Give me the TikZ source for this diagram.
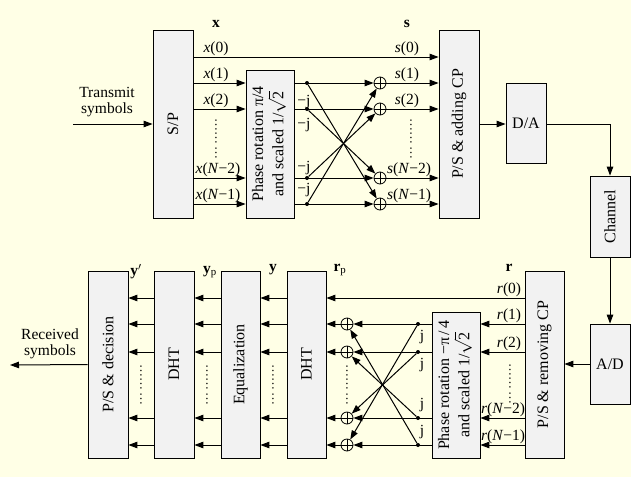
\documentclass[tikz,border=0pt]{standalone}
\usepackage{fontspec}
\setmainfont{Liberation Serif}
\usepackage{graphicx}
\usetikzlibrary{arrows.meta,calc}
\definecolor{bgc}{RGB}{255,255,230}
\definecolor{boxgray}{RGB}{242,242,242}
\tikzset{
  box/.style={draw, fill=boxgray, line width=0.8pt, inner sep=0pt, font=\fontsize{16}{18}\selectfont},
  arr/.style={-{Triangle[length=9pt,width=6.5pt]}, line width=1pt},
  sumnode/.style={circle, draw, line width=0.8pt, minimum size=12pt, inner sep=0pt,
    path picture={\draw[line width=0.8pt] (path picture bounding box.north)--(path picture bounding box.south) (path picture bounding box.west)--(path picture bounding box.east);}},
  dotnode/.style={circle, fill, inner sep=0pt, minimum size=4pt},
  lbl/.style={font=\fontsize{15.5}{17}\selectfont, inner sep=1pt},
  vdots/.style={rotate=90, font=\fontsize{13}{14}\selectfont, inner sep=0pt}
}
\begin{document}
\begin{tikzpicture}[x=1pt,y=-1pt]
\fill[bgc] (0,0) rectangle (631,477);
\useasboundingbox (0,0) rectangle (631,477);

% ---------- boxes ----------
\node[box, minimum width=40pt, minimum height=188pt] (SP) at (173,124) {\rotatebox{90}{S/P}};
\node[box, minimum width=48pt, minimum height=148pt] (PH1) at (270,144)
  {\rotatebox{90}{\renewcommand{\arraystretch}{0.9}\begin{tabular}{@{}c@{}}Phase rotation π/4\\and scaled 1/$\sqrt{\mbox{2}}$\end{tabular}}};
\node[box, minimum width=40pt, minimum height=188pt] (PSA) at (459,124) {\rotatebox{90}{P/S \& adding CP}};
\node[box, minimum width=40pt, minimum height=80pt] (DA) at (526,123) {D/A};
\node[box, minimum width=40pt, minimum height=81pt] (CH) at (610,216.5) {\rotatebox{90}{Channel}};
\node[box, minimum width=40pt, minimum height=80pt] (AD) at (610,364) {A/D};
\node[box, minimum width=39pt, minimum height=187pt] (PSR) at (544.5,364.5) {\rotatebox{90}{P/S \& removing CP}};
\node[box, minimum width=48pt, minimum height=146pt] (PH2) at (456,385)
  {\rotatebox{90}{\renewcommand{\arraystretch}{0.9}\begin{tabular}{@{}c@{}}Phase rotation −π\,/\,4\\and scaled 1/$\sqrt{\mbox{2}}$\end{tabular}}};
\node[box, minimum width=39pt, minimum height=187pt] (DHTB) at (306.5,364.5) {\rotatebox{90}{DHT}};
\node[box, minimum width=39pt, minimum height=187pt] (EQ) at (240.5,364.5) {\rotatebox{90}{Equalization}};
\node[box, minimum width=40pt, minimum height=187pt] (DHTA) at (174,364.5) {\rotatebox{90}{DHT}};
\node[box, minimum width=40pt, minimum height=187pt] (PSD) at (108,364.5) {\rotatebox{90}{P/S \& decision}};

% ---------- top rows ----------
\coordinate (t0) at (0,57);
\coordinate (t1) at (0,83);
\coordinate (t2) at (0,109);
\coordinate (t3) at (0,178);
\coordinate (t4) at (0,204);

\draw[arr] (SP.east|-t0) -- (PSA.west|-t0);
\foreach \i in {1,2,3,4}{
  \draw[arr] (SP.east|-t\i) -- (PH1.west|-t\i);
  \node[sumnode] (s\i) at (380,0|-t\i) {};
  \node[dotnode] (d\i) at (307,0|-t\i) {};
  \draw[arr] (PH1.east|-t\i) -- (s\i);
  \draw[arr] (s\i) -- (PSA.west|-t\i);
}
\draw[arr] (d1) -- (s4);
\draw[arr] (d2) -- (s3);
\draw[arr] (d3) -- (s2);
\draw[arr] (d4) -- (s1);

\node[lbl, anchor=south] at (216,57) {\textit{x}(0)};
\node[lbl, anchor=south] at (216,83) {\textit{x}(1)};
\node[lbl, anchor=south] at (216,109) {\textit{x}(2)};
\node[lbl, anchor=south] at (218,178) {\textit{x}(\textit{N}−2)};
\node[lbl, anchor=south] at (218,204) {\textit{x}(\textit{N}−1)};
\node[lbl, anchor=south] at (407,57) {\textit{s}(0)};
\node[lbl, anchor=south] at (407,83) {\textit{s}(1)};
\node[lbl, anchor=south] at (407,109) {\textit{s}(2)};
\node[lbl, anchor=south west] at (386,178) {\textit{s}(\textit{N}−2)};
\node[lbl, anchor=south west] at (386,204) {\textit{s}(\textit{N}−1)};
\node[lbl] at (216,24) {\textbf{x}};
\node[lbl] at (407,24) {\textbf{s}};
\node[lbl] at (304,102) {−j};
\node[lbl] at (304,125) {−j};
\node[lbl] at (304,168) {−j};
\node[lbl] at (304,190) {−j};
\node[vdots] at (216,139) {…\,……};
\node[vdots] at (411,139) {…\,……};

% transmit
\coordinate (tin) at (73,124);
\draw[arr] (tin) -- (SP.west);
\node[lbl] at (107,92) {Transmit};
\node[lbl] at (107,110) {symbols};

% to channel
\draw[arr] (PSA.east) -- (PSA.east -| DA.west);
\draw[arr] (PSA.east -| DA.east) -| (CH.north);
\draw[arr] (CH.south) -- (AD.north);
\draw[arr] (AD.west) -- (AD.west -| PSR.east);

% ---------- bottom rows ----------
\coordinate (b0) at (0,298);
\coordinate (b1) at (0,324);
\coordinate (b2) at (0,352);
\coordinate (b3) at (0,418);
\coordinate (b4) at (0,445);

\draw[arr] (PSR.west|-b0) -- (DHTB.east|-b0);
\foreach \i in {1,2,3,4}{
  \draw[arr] (PSR.west|-b\i) -- (PH2.east|-b\i);
  \node[sumnode] (u\i) at (347,0|-b\i) {};
  \node[dotnode] (e\i) at (418,0|-b\i) {};
  \draw[arr] (PH2.west|-b\i) -- (u\i);
  \draw[arr] (u\i) -- (DHTB.east|-b\i);
}
\draw[arr] (e1) -- (u4);
\draw[arr] (e2) -- (u3);
\draw[arr] (e3) -- (u2);
\draw[arr] (e4) -- (u1);
\foreach \i in {0,1,2,3,4}{
  \draw[arr] (DHTB.west|-b\i) -- (EQ.east|-b\i);
  \draw[arr] (EQ.west|-b\i) -- (DHTA.east|-b\i);
  \draw[arr] (DHTA.west|-b\i) -- (PSD.east|-b\i);
}

\node[lbl, anchor=south] at (509,298) {\textit{r}(0)};
\node[lbl, anchor=south] at (509,324) {\textit{r}(1)};
\node[lbl, anchor=south] at (509,352) {\textit{r}(2)};
\node[lbl, anchor=south] at (503,418) {\textit{r}(\textit{N}−2)};
\node[lbl, anchor=south] at (503,445) {\textit{r}(\textit{N}−1)};
\node[lbl] at (509,268) {\textbf{r}};
\node[lbl] at (340,270) {\textbf{r}\textsubscript{p}};
\node[lbl] at (273,270) {\textbf{y}};
\node[lbl] at (210,272) {\textbf{y}\textsubscript{p}};
\node[lbl] at (136,272) {\textbf{y}$'$};
\node[lbl] at (422,337) {j};
\node[lbl] at (422,365) {j};
\node[lbl] at (422,405) {j};
\node[lbl] at (422,432) {j};
\node[vdots] at (510,384) {…\,……};
\node[vdots] at (347,385) {…\,……};
\node[vdots] at (273,385) {…\,……};
\node[vdots] at (207,385) {…\,……};
\node[vdots] at (141,385) {…\,……};

% received
\coordinate (rout) at (10,365);
\draw[arr] (PSD.west) -- (rout);
\node[lbl] at (50,334) {Received};
\node[lbl] at (50,352) {symbols};
\end{tikzpicture}
\end{document}
